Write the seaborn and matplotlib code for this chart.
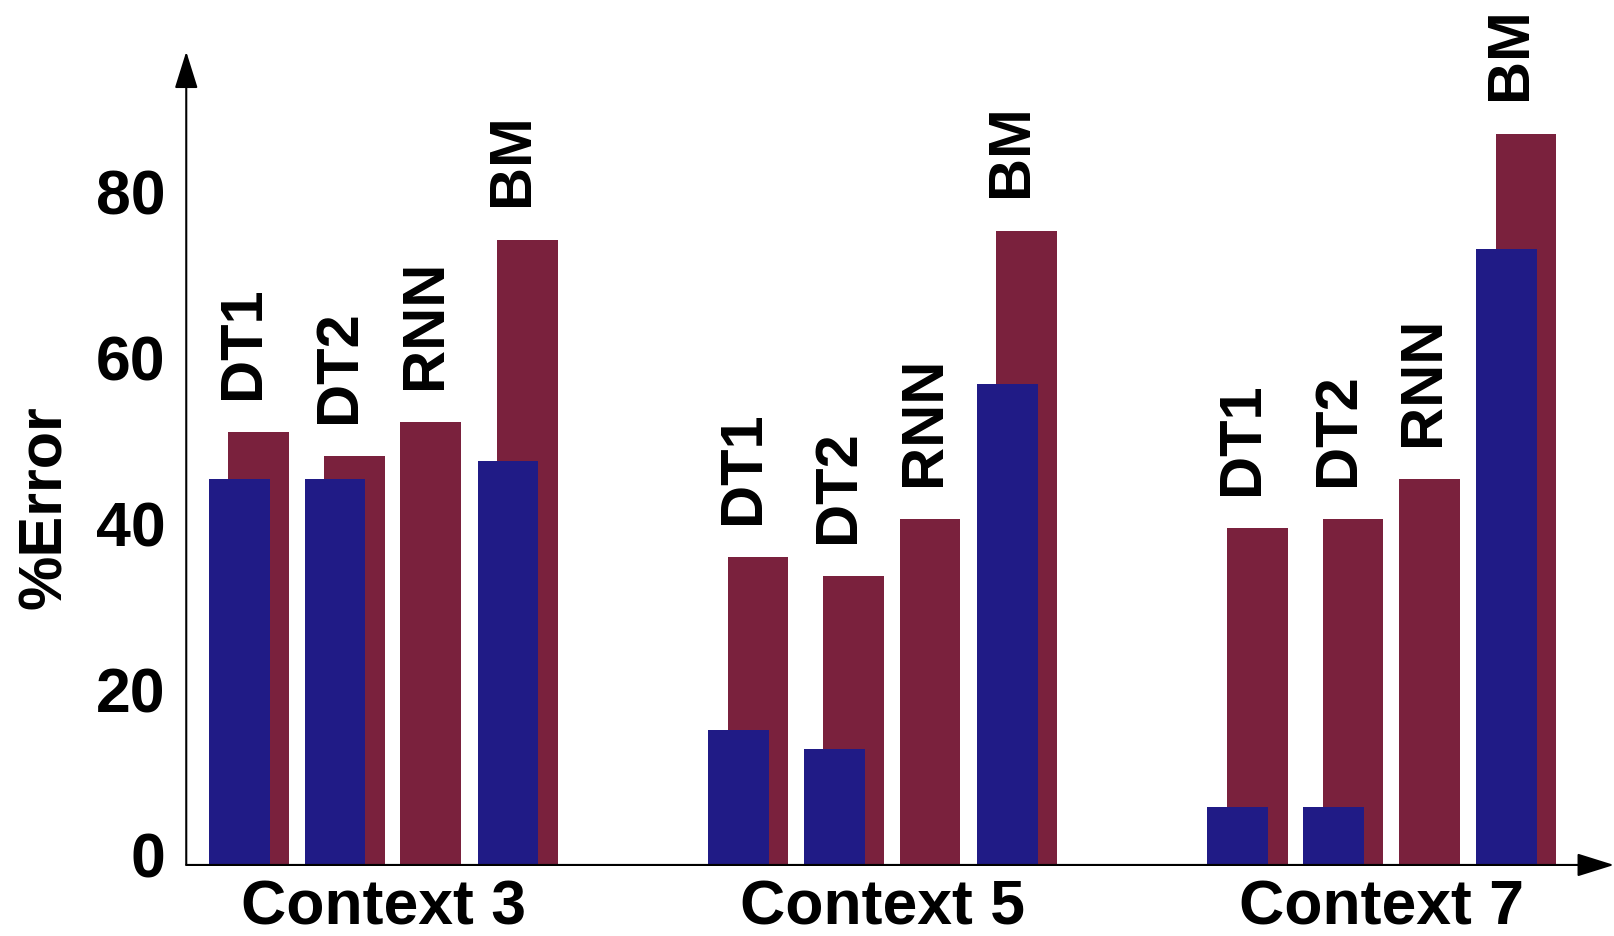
import numpy as np
import pandas as pd
import seaborn as sns
import matplotlib
matplotlib.use("Agg")
import matplotlib.pyplot as plt
import matplotlib.transforms as mtransforms

sns.set_style("white")
plt.rcParams["font.family"] = ["Liberation Sans", "DejaVu Sans"]
plt.rcParams["font.weight"] = "bold"
for key in ["text.color", "axes.labelcolor", "xtick.color", "ytick.color"]:
    plt.rcParams[key] = "black"

#Data
contexts = ["Context 3", "Context 5", "Context 7"]
models = ["DT1", "DT2", "RNN", "BM"]
# front (blue) bars, one row per context, model order; RNN has no blue bar
blue_err = [[46.6, 46.5, np.nan, 48.7],
            [16.3, 14.0, np.nan, 58.0],
            [7.0, 7.0, np.nan, 74.3]]
# back (red) bars
red_err = [[52.2, 49.3, 53.4, 75.4],
           [37.1, 34.8, 41.7, 76.5],
           [40.6, 41.7, 46.5, 88.2]]
y_ticks = [0, 20, 40, 60, 80]

blue = "#201b86"
red = "#7a213d"

#Layout (x in units of one bar slot)
group_step = 5.215
slot = [0, 1, 2, 2.806]
bar_w = 0.634
shift = 0.204

rows = []
for i, ctx in enumerate(contexts):
    for j, m in enumerate(models):
        left = i * group_step + slot[j]
        has_blue = not np.isnan(blue_err[i][j])
        back_left = left + shift if has_blue else left
        rows.append(dict(context=ctx, model=m,
                         x_blue=round(left + bar_w / 2, 4),
                         x_red=round(back_left + bar_w / 2, 4),
                         blue=blue_err[i][j], red=red_err[i][j],
                         lbl_x=(left + back_left + bar_w) / 2 - 0.055))
df = pd.DataFrame(rows)
blue_df = df.dropna(subset=["blue"])

def native_step(x):
    return np.diff(np.unique(x)).min()

fig = plt.figure(figsize=(16.14, 9.36), dpi=100)
ax = fig.add_axes([0.1154, 0.0759, 0.8846, 0.869])

sns.barplot(data=df, x="x_red", y="red", native_scale=True, orient="x",
            color=red, saturation=1, width=bar_w / native_step(df["x_red"]),
            errorbar=None, linewidth=0, ax=ax)
sns.barplot(data=blue_df, x="x_blue", y="blue", native_scale=True, orient="x",
            color=blue, saturation=1, width=bar_w / native_step(blue_df["x_blue"]),
            errorbar=None, linewidth=0, ax=ax)

# model names above each pair
for _, r in df.iterrows():
    ax.annotate(r["model"], xy=(r["lbl_x"], r["red"]), xytext=(0, 24),
                textcoords="offset points", rotation=90, ha="center", va="bottom",
                fontsize=43, fontweight="bold", color="black")

ax.set_xlim(-0.237, 14.677)
ax.set_ylim(0, 98.1)
centers = [i * group_step + (slot[-1] + shift + bar_w) / 2 for i in range(len(contexts))]
ax.set_xticks(centers)
ax.set_xticklabels(contexts)
ax.set_yticks(y_ticks)
ax.set_yticklabels([str(t) for t in y_ticks])
ax.tick_params(axis="x", length=0, labelsize=45, pad=10)
ax.tick_params(axis="y", length=0, labelsize=45, pad=15)
offset = mtransforms.ScaledTranslation(0, 0.10, fig.dpi_scale_trans)
for lab in ax.get_yticklabels():
    lab.set_transform(lab.get_transform() + offset)
ax.set_xlabel("")
ax.set_ylabel("%Error", fontsize=44, fontweight="bold")
ax.yaxis.set_label_coords(-0.0786, 0.44)

for s in ax.spines.values():
    s.set_visible(False)
arrow = dict(arrowstyle="-|>,head_length=1.15,head_width=0.36", mutation_scale=20,
             lw=1.5, color="k", shrinkA=0, shrinkB=0)
ax.annotate("", xy=(0, 1), xycoords="axes fraction", xytext=(0, 0),
            textcoords="axes fraction", arrowprops=arrow)
ax.annotate("", xy=(1, 0), xycoords="axes fraction", xytext=(0, 0),
            textcoords="axes fraction", arrowprops=arrow)

fig.savefig("out.png", dpi=100)
